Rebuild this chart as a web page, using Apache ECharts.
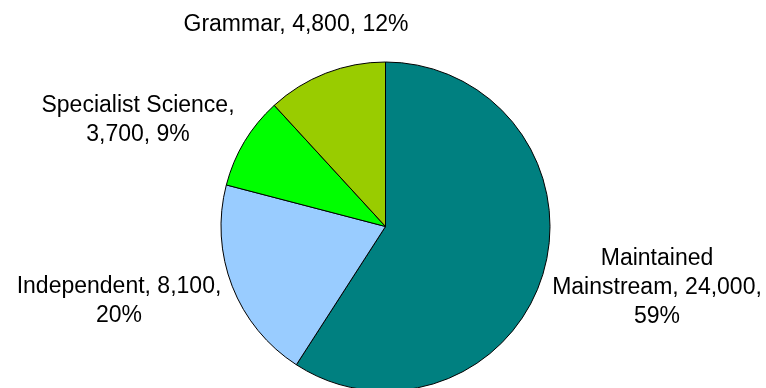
<!DOCTYPE html>
<html>
<head>
<meta charset="utf-8">
<script src="https://cdn.jsdelivr.net/npm/echarts@6/dist/echarts.min.js"></script>
<style>
html,body{margin:0;padding:0;background:#fff;}
#chart{width:766px;height:388px;}
</style>
</head>
<body>
<div id="chart"></div>
<script>
// Data
const categories = ['Maintained Mainstream', 'Independent', 'Specialist Science', 'Grammar'];
const values = [24000, 8100, 3700, 4800];
const colors = ['#008080', '#99CCFF', '#00FF00', '#99CC00'];

// Label wrapping (where line breaks fall in each label)
const nameBreak = [true, false, false, false];      // break inside the name
const breakAfterName = [false, false, true, false]; // break after "name,"
const breakAfterValue = [true, true, false, false]; // break after "value,"

// Label block centres (layout only)
const labelCenters = [[657, 288], [119, 301], [138, 120], [296, 25]];

function fmtNum(v) { return v.toLocaleString('en-US'); }

const chart = echarts.init(document.getElementById('chart'), null, {renderer: 'canvas'});
chart.setOption({
  animation: false,
  backgroundColor: '#ffffff',
  series: [{
    type: 'pie',
    center: [385.5, 226.5],
    radius: 164.5,
    startAngle: 90,
    clockwise: true,
    percentPrecision: 0,
    silent: true,
    emphasis: {disabled: true},
    data: categories.map((c, i) => ({
      name: c,
      value: values[i],
      itemStyle: {color: colors[i]}
    })),
    itemStyle: {borderColor: '#000', borderWidth: 1},
    label: {
      show: true,
      position: 'outside',
      overflow: 'none',
      width: 400,
      fontFamily: 'Liberation Sans, Arial, sans-serif',
      fontSize: 23,
      lineHeight: 29,
      color: '#000',
      formatter: function (p) {
        const i = p.dataIndex;
        let name = nameBreak[i] ? p.name.replace(' ', '\n') : p.name;
        let s = name + (breakAfterName[i] ? ',\n' : ', ');
        s += fmtNum(p.value) + (breakAfterValue[i] ? ',\n' : ', ');
        s += Math.round(p.percent) + '%';
        return s;
      }
    },
    labelLine: {show: false},
    labelLayout: function (params) {
      const c = labelCenters[params.dataIndex];
      return {x: c[0], y: c[1], align: 'center', verticalAlign: 'middle'};
    }
  }]
});
</script>
</body>
</html>
